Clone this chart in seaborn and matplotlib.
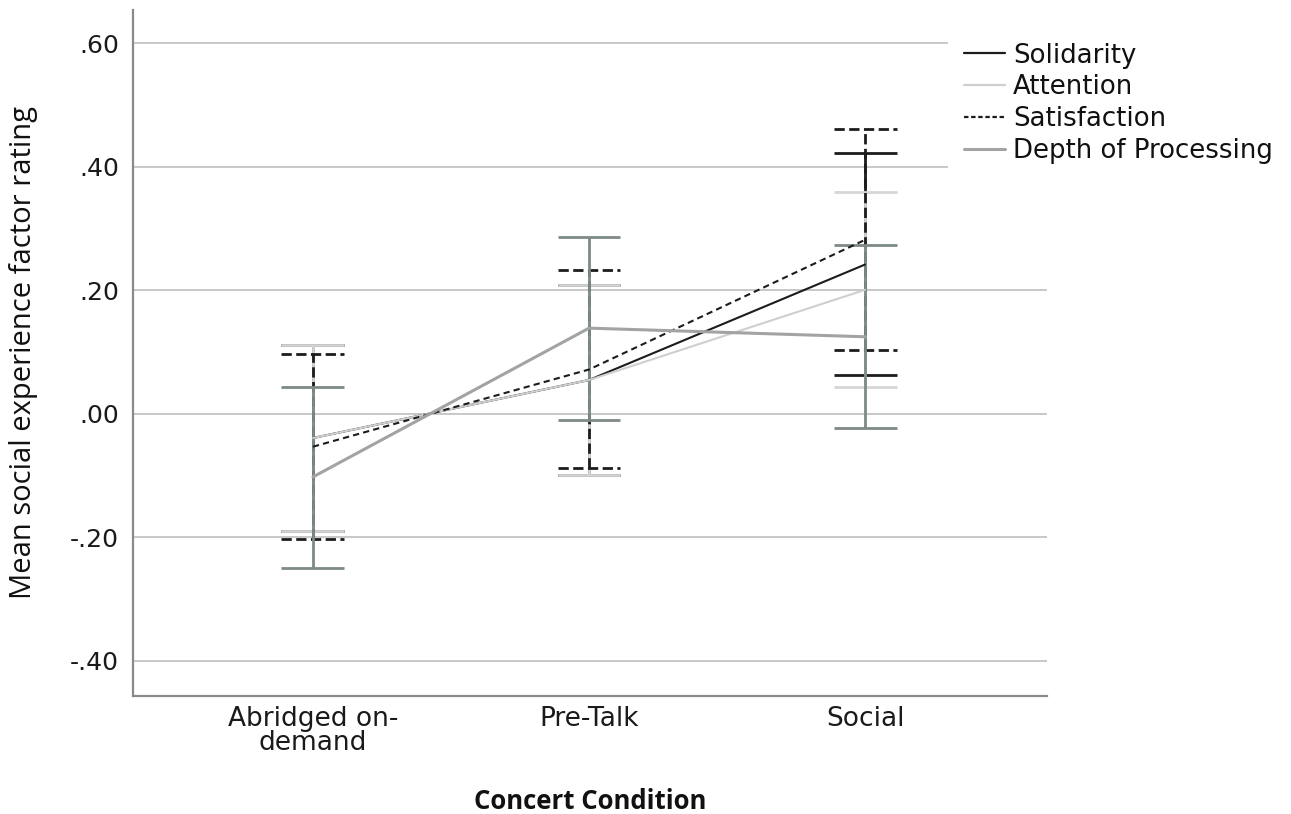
import numpy as np
import pandas as pd
import matplotlib
matplotlib.use("Agg")
import matplotlib.pyplot as plt
from matplotlib.lines import Line2D
import seaborn as sns

# Concert conditions on the x axis
conditions = ["Abridged on-\ndemand", "Pre-Talk", "Social"]
factors = ["Solidarity", "Attention", "Satisfaction", "Depth of Processing"]

# Mean factor ratings per condition
solidarity_mean = [-0.039, 0.055, 0.242]
attention_mean = [-0.039, 0.055, 0.201]
satisfaction_mean = [-0.053, 0.072, 0.282]
depth_mean = [-0.102, 0.139, 0.125]

# 95% CI bounds (lower, upper) per condition
solidarity_lo = [-0.190, -0.099, 0.063]
solidarity_hi = [0.112, 0.209, 0.422]
attention_lo = [-0.190, -0.099, 0.044]
attention_hi = [0.112, 0.209, 0.359]
satisfaction_lo = [-0.203, -0.088, 0.104]
satisfaction_hi = [0.097, 0.233, 0.462]
depth_lo = [-0.250, -0.010, -0.022]
depth_hi = [0.044, 0.287, 0.273]

yticks = [-0.40, -0.20, 0.00, 0.20, 0.40, 0.60]
ytick_labels = ["-.40", "-.20", ".00", ".20", ".40", ".60"]

means = [solidarity_mean, attention_mean, satisfaction_mean, depth_mean]
lows = [solidarity_lo, attention_lo, satisfaction_lo, depth_lo]
highs = [solidarity_hi, attention_hi, satisfaction_hi, depth_hi]

pos = np.arange(len(conditions))
df = pd.DataFrame({
    "pos": np.tile(pos, len(factors)),
    "mean": np.concatenate(means),
    "lo": np.concatenate(lows),
    "hi": np.concatenate(highs),
    "factor": np.repeat(factors, len(conditions)),
})

# Styling per factor
line_color = {"Solidarity": "#1c1c1c", "Attention": "#cfcfcf",
              "Satisfaction": "#1c1c1c", "Depth of Processing": "#a3a3a3"}
bar_color = {"Solidarity": "#1c1c1c", "Attention": "#d6d6d6",
             "Satisfaction": "#1c1c1c", "Depth of Processing": "#7d8a88"}
line_width = {"Solidarity": 1.5, "Attention": 1.5,
              "Satisfaction": 1.5, "Depth of Processing": 2.2}
dash = {"Solidarity": "", "Attention": "", "Satisfaction": (3, 2),
        "Depth of Processing": ""}

sns.set_style("white")
plt.rcParams["font.family"] = ["DejaVu Sans"]

fig = plt.figure(figsize=(12.91, 8.14), dpi=100)
ax = fig.add_axes([0.1030, 0.1450, 0.7080, 0.8428])

ax.set_xlim(-0.652, 2.659)
ax.set_ylim(-0.4567, 0.6543)

# horizontal grid
ax.set_yticks(yticks)
ax.set_yticklabels(ytick_labels)
ax.yaxis.grid(True, color="#c4c4c4", linewidth=1.3, zorder=0)
ax.xaxis.grid(False)
ax.set_axisbelow(True)

cap = 0.114
for f in factors:
    sub = df[df["factor"] == f]
    ls = "--" if dash[f] else "-"
    # error bars: vertical whiskers and caps
    ax.vlines(sub["pos"], sub["lo"], sub["hi"], colors=bar_color[f],
              linewidth=2.0, linestyles=ls, zorder=3)
    for y in ("lo", "hi"):
        ax.hlines(sub[y], sub["pos"] - cap, sub["pos"] + cap,
                  colors=bar_color[f], linewidth=2.0, linestyles=ls, zorder=3)

sns.lineplot(data=df, x="pos", y="mean", hue="factor", style="factor",
             palette=line_color, dashes=dash, hue_order=factors,
             style_order=factors, legend=False, ax=ax, zorder=4)
for line, f in zip(ax.lines, factors):
    line.set_linewidth(line_width[f])

ax.set_xticks(pos)
ax.set_xticklabels(conditions, fontsize=19, linespacing=0.9)
ax.tick_params(axis="x", length=0, pad=7, colors="#1a1a1a")
ax.tick_params(axis="y", length=0, pad=10, labelsize=18, colors="#1a1a1a")

for s in ("top", "right"):
    ax.spines[s].set_visible(False)
for s in ("left", "bottom"):
    ax.spines[s].set_color("#8a8a8a")
    ax.spines[s].set_linewidth(1.6)

ax.set_ylabel("Mean social experience factor rating", family="Open Sans",
              fontsize=21, color="#111111", labelpad=23)
ax.set_xlabel("Concert Condition", family="Open Sans", fontweight="bold",
              fontsize=18.5, color="#111111", labelpad=23)

handles = [Line2D([], [], color=line_color[f], linewidth=1.6 if f != "Depth of Processing" else 2.2,
                  linestyle=(0, (2, 1.2)) if dash[f] else "-") for f in factors]
leg = ax.legend(handles, factors, loc="upper left",
                bbox_to_anchor=(948 / 1291, 1 - 27 / 814),
                bbox_transform=fig.transFigure, fontsize=18.7,
                frameon=True, facecolor="white", edgecolor="none",
                framealpha=1, fancybox=False, borderpad=0.6,
                handlelength=1.6, handletextpad=0.3, labelspacing=0.22,
                borderaxespad=0)
for t in leg.get_texts():
    t.set_color("#111111")

fig.savefig("out.png", dpi=100)
